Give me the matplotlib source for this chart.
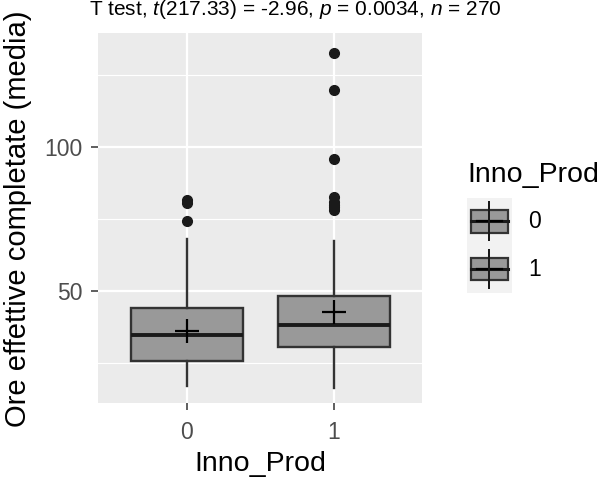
import matplotlib
matplotlib.use("Agg")
import matplotlib.pyplot as plt
from matplotlib.patches import Rectangle
from matplotlib.lines import Line2D
from matplotlib.legend_handler import HandlerBase

plt.rcParams["font.family"] = ["Liberation Sans", "DejaVu Sans"]
plt.rcParams["mathtext.fontset"] = "custom"
plt.rcParams["mathtext.rm"] = "Liberation Sans"
plt.rcParams["mathtext.it"] = "Liberation Sans:italic"

# ---- data -------------------------------------------------------------
groups = ["0", "1"]
q1 = [25.5, 30.5]
medians = [34.6, 38.1]
q3 = [44.1, 48.2]
whisker_low = [16.8, 16.0]
whisker_high = [68.0, 67.3]
means = [36.0, 42.5]
outliers = [
    [74.1, 80.4, 81.4],
    [78.0, 79.0, 80.0, 81.0, 82.5, 96.0, 119.8, 132.6],
]
y_ticks = [50, 100]
y_minor = [25, 75, 125]

title = r"T test, $t$(217.33) = -2.96, $p$ = 0.0034, $n$ = 270"
x_title = "Inno_Prod"
y_title = "Ore effettive completate (media)"

# ---- style ------------------------------------------------------------
PANEL_BG = "#EBEBEB"
KEY_BG = "#F2F2F2"
BOX_FILL = "#999999"
EDGE = "#333333"
TEXT_GREY = "#4D4D4D"

W, H = 602, 484
fig = plt.figure(figsize=(W / 100, H / 100), dpi=100)
ax = fig.add_axes([98.3 / W, 1 - 403.3 / H, (422.3 - 98.3) / W, (403.3 - 33.3) / H])
ax.set_facecolor(PANEL_BG)
for s in ax.spines.values():
    s.set_visible(False)

positions = list(range(len(groups)))
stats = []
for i, g in enumerate(groups):
    stats.append(dict(label=g, q1=q1[i], med=medians[i], q3=q3[i],
                      whislo=whisker_low[i], whishi=whisker_high[i],
                      fliers=outliers[i], mean=means[i]))

ax.bxp(stats, positions=positions, widths=0.76, patch_artist=True,
       showcaps=False, showmeans=False, showfliers=True,
       boxprops=dict(facecolor=BOX_FILL, edgecolor=EDGE, linewidth=1.7),
       medianprops=dict(color="#1A1A1A", linewidth=2.8),
       whiskerprops=dict(color=EDGE, linewidth=1.7),
       flierprops=dict(marker="o", markerfacecolor="#1A1A1A",
                       markeredgecolor="#1A1A1A", markersize=7),
       zorder=3)
ax.plot(positions, means, linestyle="none", marker="+", markersize=17,
        markeredgewidth=1.6, color="black", zorder=5)

ax.set_xlim(-0.6, 1.6)
ax.set_ylim(10.8, 139.6)
ax.set_xticks(positions)
ax.set_xticklabels(groups)
ax.set_yticks(y_ticks)
ax.set_yticks(y_minor, minor=True)
ax.grid(True, which="major", color="white", linewidth=1.6, zorder=0)
ax.grid(True, which="minor", axis="y", color="white", linewidth=0.8, zorder=0)
ax.set_axisbelow(True)
ax.tick_params(axis="both", which="major", length=5, width=1.1, color=EDGE,
               labelsize=16.5, labelcolor=TEXT_GREY)
ax.tick_params(axis="y", which="major", pad=6.5)
ax.tick_params(axis="x", which="major", pad=8)
ax.tick_params(axis="y", which="minor", length=0)

ax.set_xlabel(x_title, fontsize=20.5, color="black", labelpad=5)
ax.set_ylabel(y_title, fontsize=21, color="black", labelpad=9)

fig.text(89 / W, 1 - 15 / H, title, fontsize=15, ha="left", va="baseline")


# ---- legend key drawn like a small boxplot ------------------------------
class BoxKeyHandler(HandlerBase):
    def create_artists(self, legend, orig_handle, xdescent, ydescent,
                       width, height, fontsize, trans):
        x0, y0 = -xdescent, -ydescent
        cx, cy = x0 + width / 2, y0 + height / 2
        bw, bh = width * 0.84, height * 0.48
        bg = Rectangle((x0, y0), width, height, facecolor=KEY_BG,
                       edgecolor="none", transform=trans)
        vline = Line2D([cx, cx], [y0 + height * 0.1, y0 + height * 0.9],
                       color="#1A1A1A", linewidth=1.4, transform=trans)
        box = Rectangle((cx - bw / 2, cy - bh / 2), bw, bh, facecolor=BOX_FILL,
                        edgecolor=EDGE, linewidth=1.6, transform=trans)
        med = Line2D([cx - bw / 2, cx + bw / 2], [cy, cy], color="#1A1A1A",
                     linewidth=2.2, transform=trans)
        cross = Line2D([cx - width * 0.27, cx + width * 0.27], [cy, cy],
                       color="black", linewidth=1.6, transform=trans)
        vline2 = Line2D([cx, cx], [y0 + height * 0.1, y0 + height * 0.9],
                        color="#1A1A1A", linewidth=1.4, transform=trans)
        return [bg, vline, box, med, cross, vline2]


handles = [Rectangle((0, 0), 1, 1) for _ in groups]
leg = fig.legend(handles, groups, handler_map={Rectangle: BoxKeyHandler()},
                 title=x_title, title_fontsize=20.5, fontsize=16.5,
                 loc="upper left", bbox_to_anchor=(467 / W, 1 - 162 / H),
                 frameon=False, borderpad=0, borderaxespad=0, labelspacing=0,
                 handlelength=1.96, handleheight=2.81,
                 handletextpad=0.7, alignment="left")
# extra room between the legend title and its keys
leg._legend_box.sep = 7

fig.savefig("out.png", dpi=100)
